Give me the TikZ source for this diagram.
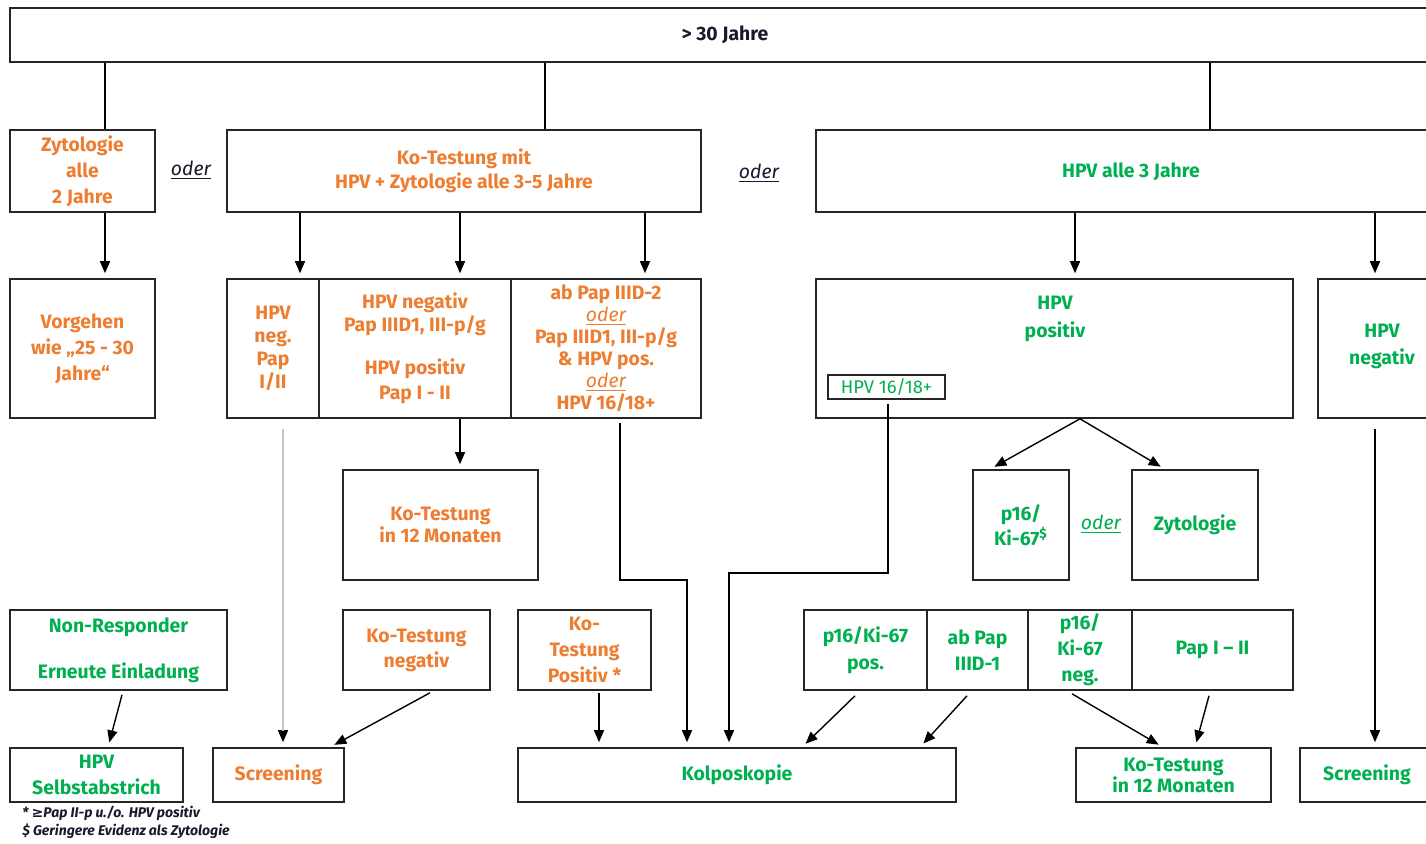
\documentclass[tikz,border=0pt]{standalone}
\usepackage{fontspec}
\setmainfont{Fira Sans}
\newfontfamily\symfont{DejaVu Sans}
\usetikzlibrary{arrows.meta,calc}
\definecolor{orng}{RGB}{237,125,49}
\definecolor{grn}{RGB}{0,176,80}
\definecolor{ink}{RGB}{25,25,45}
\begin{document}
\begin{tikzpicture}[x=0.5pt,y=-0.5pt,
  box/.style={draw=black!85, line width=0.8pt, inner sep=0pt, align=center, font=\fontsize{9.7}{12}\selectfont\bfseries},
  sz/.style n args={2}{minimum width=#1pt, minimum height=#2pt},
  ot/.style={text=orng},
  gt/.style={text=grn},
  tt/.style={align=center, inner sep=0pt, font=\fontsize{9.7}{12}\selectfont\bfseries},
  arr/.style={-{Triangle[length=6pt,width=5pt]}, line width=0.7pt, shorten >=2.5pt},
  ln/.style={line width=0.7pt},
  gl/.style={line width=1.1pt, draw=gray!45},
  oder/.style={align=center, inner sep=0pt, text=ink, font=\fontsize{9.7}{12}\selectfont\itshape},
  fn/.style={anchor=west, inner sep=0pt, text=ink, font=\fontsize{7}{8}\selectfont\bfseries\itshape}
]
\useasboundingbox (0,0) rectangle (1426,843);
\clip (0,0) rectangle (1426,843);

% top
\node[box, sz={715}{27}, text=ink] (top) at (725,35) {> 30 Jahre};

% row 1
\node[box, ot, sz={72.5}{41}, font=\fontsize{9.7}{13}\selectfont\bfseries] (zyt) at (82.5,171) {Zytologie\\alle\\2 Jahre};
\node[oder] (oder1) at (191,170) {\underline{oder}};
\node[box, ot, sz={237}{41}] (kot) at (464,171) {Ko-Testung mit\\HPV + Zytologie alle 3-5 Jahre};
\node[oder] (oder2) at (759,173) {\underline{oder}};
\node[box, sz={312}{41}] (hpv3) at (1128,171) {};
\node[tt, gt] (hpv3t) at (1131,172) {HPV alle 3 Jahre};

% row 2
\node[box, ot, sz={72.5}{69.5}, font=\fontsize{9.7}{13}\selectfont\bfseries] (vorg) at (82.5,348.5) {Vorgehen\\wie „25 - 30\\Jahre“};
\node[box, ot, sz={46}{69.5}, font=\fontsize{9.7}{11.5}\selectfont\bfseries] (c1) at (273,348.5) {HPV\\neg.\\Pap\\I/II};
\node[box, ot, sz={96}{69.5}, font=\fontsize{9.7}{11.5}\selectfont\bfseries] (c2) at (415,348.5) {HPV negativ\\Pap IIID1, III-p/g\\[10pt]HPV positiv\\[1pt]Pap I - II};
\node[box, ot, sz={95}{69.5}, font=\fontsize{9.7}{11}\selectfont\bfseries] (c3) at (606,348.5) {ab Pap IIID-2\\\underline{\mdseries\itshape oder}\\Pap IIID1, III-p/g\\\& HPV pos.\\\underline{\mdseries\itshape oder}\\HPV 16/18+};
\node[box, sz={238.5}{69.5}] (hpvpos) at (1054.5,348.5) {};
\node[tt, gt, font=\fontsize{9.7}{14}\selectfont\bfseries] (hpvpost) at (1055,319) {HPV\\positiv};
\node[box, gt, line width=0.6pt, sz={58.5}{12}, font=\fontsize{9.2}{11}\selectfont\mdseries] (hpv1618) at (886.5,387) {HPV 16/18+};
\node[box, sz={61}{69.5}] (hpvneg) at (1379,348.5) {};
\node[tt, gt, font=\fontsize{9.7}{13.5}\selectfont\bfseries] (hpvnegt) at (1382,346) {HPV\\negativ};

% row 3
\node[box, ot, sz={97.5}{55}, font=\fontsize{9.7}{11}\selectfont\bfseries] (ko12a) at (440.5,525) {Ko-Testung\\in 12 Monaten};
\node[box, gt, sz={48}{55}, font=\fontsize{9.7}{12.5}\selectfont\bfseries] (p16) at (1021,525) {p16/\\Ki-67\textsuperscript{\$}};
\node[align=center, inner sep=0pt, text=grn, font=\fontsize{9.7}{12}\selectfont\itshape] (oder3) at (1101,524) {\underline{oder}};
\node[box, gt, sz={63}{55}] (zyt2) at (1195,525) {Zytologie};

% row 4
\node[box, gt, sz={108.5}{40}] (nonr) at (118.5,650) {Non-Responder\\[11pt]Erneute Einladung};
\node[box, ot, sz={73.5}{40}, font=\fontsize{9.7}{12.5}\selectfont\bfseries] (kneg) at (416.5,650) {Ko-Testung\\negativ};
\node[box, ot, sz={66.5}{40}, font=\fontsize{9.7}{13}\selectfont\bfseries] (kpos) at (584.5,650) {Ko-\\Testung\\Positiv *};
\node[box, gt, sz={61.5}{40}, font=\fontsize{9.7}{13.5}\selectfont\bfseries] (g1) at (865.5,650) {p16/Ki-67\\pos.};
\node[box, gt, sz={50.5}{40}, font=\fontsize{9.7}{13}\selectfont\bfseries] (g2) at (977.5,650) {ab Pap\\IIID-1};
\node[box, gt, sz={52}{40}, font=\fontsize{9.7}{13}\selectfont\bfseries] (g3) at (1080,650) {p16/\\Ki-67\\neg.};
\node[box, gt, sz={80.5}{40}] (g4) at (1212.5,650) {Pap I – II};

% row 5
\node[box, gt, sz={86.5}{27}, font=\fontsize{9.7}{13}\selectfont\bfseries] (hpvs) at (96.5,775) {HPV\\Selbstabstrich};
\node[box, ot, sz={65.5}{27}] (scr1) at (278.5,775) {Screening};
\node[box, gt, sz={219}{27}] (kolpo) at (737,775) {Kolposkopie};
\node[box, gt, sz={97.5}{27}, font=\fontsize{9.7}{10.5}\selectfont\bfseries] (ko12b) at (1173.5,775) {Ko-Testung\\in 12 Monaten};
\node[box, sz={70}{27}] (scr2) at (1370,775) {};
\node[tt, gt] (scr2t) at (1367,775) {Screening};

% footnotes
\node[fn] (fn1) at (22,813) {* {\symfont ≥}Pap II-p u./o. HPV positiv};
\node[fn] (fn2) at (22,831) {\$ Geringere Evidenz als Zytologie};

% connectors
\draw[ln] (top.south -| 105,0) -- (zyt.north -| 105,0);
\draw[ln] (top.south -| 545,0) -- (kot.north -| 545,0);
\draw[ln] (top.south -| 1210,0) -- (hpv3.north -| 1210,0);

\draw[arr] (zyt.south -| 105,0) -- (vorg.north -| 105,0);
\draw[arr] (kot.south -| 300,0) -- (c1.north -| 300,0);
\draw[arr] (kot.south -| 460,0) -- (c2.north -| 460,0);
\draw[arr] (kot.south -| 645,0) -- (c3.north -| 645,0);
\draw[arr] (hpv3.south -| 1075,0) -- (hpvpos.north -| 1075,0);
\draw[arr] (hpv3.south -| 1375,0) -- (hpvneg.north -| 1375,0);

\draw[arr] ($(scr1.north -| 283,0)+(0,-36)$) -- (scr1.north -| 283,0);
\draw[gl] ($(c1.south -| 283,0)+(0,10)$) -- ($(scr1.north -| 283,0)+(0,-16)$);
\draw[arr] (c2.south -| 460,0) -- (ko12a.north -| 460,0);
\draw[arr] ($(c3.south -| 620,0)+(0,4)$) -- (620,580) -- (687,580) -- (kolpo.north -| 687,0);
\draw[arr] ($(hpv1618.south -| 888,0)+(0,4)$) -- (888,573) -- (729,573) -- (kolpo.north -| 729,0);
\draw[arr] (hpvpos.south -| 1080,0) -- (p16.north -| 990,0);
\draw[arr] (hpvpos.south -| 1080,0) -- (zyt2.north -| 1165,0);
\draw[arr] ($(hpvneg.south -| 1375,0)+(0,10)$) -- (scr2.north -| 1375,0);

\draw[arr] ($(nonr.south -| 122,0)+(0,4)$) -- (hpvs.north -| 108,0);
\draw[arr] ($(kneg.south -| 430,0)+(0,2)$) -- (scr1.north -| 330,0);
\draw[arr] ($(kpos.south -| 599,0)+(0,2)$) -- (kolpo.north -| 599,0);
\draw[arr] ($(g1.south -| 855,0)+(0,5)$) -- (kolpo.north -| 802,0);
\draw[arr] ($(g2.south -| 967,0)+(0,5)$) -- (kolpo.north -| 920,0);
\draw[arr] ($(g3.south -| 1072,0)+(0,3)$) -- (ko12b.north -| 1163,0);
\draw[arr] ($(g4.south -| 1209,0)+(0,5)$) -- (ko12b.north -| 1195,0);
\end{tikzpicture}
\end{document}
